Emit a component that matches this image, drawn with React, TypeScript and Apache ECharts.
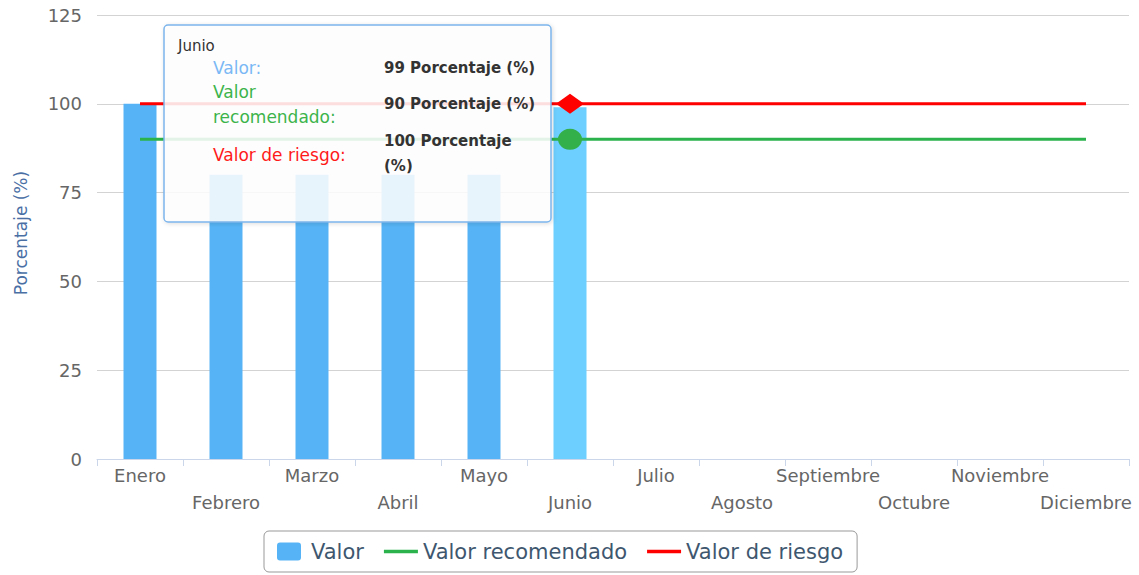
import React, { useEffect, useRef } from "react";
import * as echarts from "echarts";

const months = [
  "Enero", "Febrero", "Marzo", "Abril", "Mayo", "Junio",
  "Julio", "Agosto", "Septiembre", "Octubre", "Noviembre", "Diciembre",
];
const valor: (number | null)[] = [100, 80, 80, 80, 80, 99, null, null, null, null, null, null];
const recomendado = [90, 90, 90, 90, 90, 90, 90, 90, 90, 90, 90, 90];
const riesgo = [100, 100, 100, 100, 100, 100, 100, 100, 100, 100, 100, 100];
const hoverIndex = 5;
const unit = "Porcentaje (%)";
const yMin = 0;
const yMax = 125;
const yStep = 25;

const FONT = "DejaVu Sans";
const BAR = "#56b4f6";
const BAR_HOVER = "#6dcfff";
const GREEN = "#2bb24c";
const RED = "#ff0000";
const LINE_ICON = "path://M0,0 H30 V3 H0 Z";

export default function App() {
  const ref = useRef<HTMLDivElement>(null);

  useEffect(() => {
    if (!ref.current) return;
    const chart = echarts.init(ref.current, undefined, { renderer: "svg" });

    const barData = valor.map((v, i) =>
      i === hoverIndex ? { value: v, itemStyle: { color: BAR_HOVER } } : v
    );

    const option: any = {
      animation: false,
      textStyle: { fontFamily: FONT },
      grid: { left: 97, right: 10, top: 15, bottom: 116 },
      legend: {
        left: 264,
        top: 531,
        padding: [10, 14, 10, 13],
        borderColor: "#999",
        borderWidth: 1,
        borderRadius: 5,
        itemGap: 20,
        itemWidth: 34,
        itemHeight: 18,
        textStyle: { fontSize: 21, color: "#3e576f", fontFamily: FONT },
        data: [
          {
            name: "Valor",
            icon: "path://M3,0 H21 Q24,0 24,3 V15 Q24,18 21,18 H3 Q0,18 0,15 V3 Q0,0 3,0 Z",
          },
          { name: "Valor recomendado", icon: LINE_ICON },
          { name: "Valor de riesgo", icon: LINE_ICON },
        ],
      },
      xAxis: {
        type: "category",
        data: months,
        axisLine: { lineStyle: { color: "#ccd6eb", width: 1 } },
        axisTick: { show: true, length: 7, lineStyle: { color: "#ccd6eb" } },
        axisLabel: {
          interval: 0,
          hideOverlap: false,
          margin: 3,
          fontSize: 18,
          lineHeight: 27,
          color: "#666",
          fontFamily: FONT,
          formatter: (v: string, i: number) => (i % 2 === 1 ? "\n" + v : v),
        },
      },
      yAxis: {
        type: "value",
        min: yMin,
        max: yMax,
        interval: yStep,
        name: unit,
        nameLocation: "middle",
        nameRotate: 90,
        nameGap: 68,
        nameTextStyle: { fontSize: 17, color: "#4a6fa5", fontFamily: FONT, padding: [0, 0, 0, 8] },
        axisLine: { show: false },
        axisTick: { show: false },
        axisLabel: { fontSize: 18, color: "#666", margin: 15, fontFamily: FONT },
        splitLine: { lineStyle: { color: "#d3d3d3", width: 1 } },
      },
      series: [
        {
          name: "Valor",
          type: "bar",
          data: barData,
          barWidth: 33,
          itemStyle: { color: BAR },
          z: 2,
        },
        {
          name: "Valor recomendado",
          type: "line",
          data: recomendado,
          symbol: "none",
          lineStyle: { color: GREEN, width: 3 },
          itemStyle: { color: GREEN },
          z: 3,
          markPoint: {
            silent: true,
            symbol: "circle",
            symbolSize: [24, 21],
            label: { show: false },
            itemStyle: { color: "#34b04a" },
            data: [{ coord: [months[hoverIndex], recomendado[hoverIndex]] }],
          },
        },
        {
          name: "Valor de riesgo",
          type: "line",
          data: riesgo,
          symbol: "none",
          lineStyle: { color: RED, width: 3 },
          itemStyle: { color: RED },
          z: 4,
          markPoint: {
            silent: true,
            symbol: "diamond",
            symbolSize: [28, 20],
            label: { show: false },
            itemStyle: { color: RED },
            data: [{ coord: [months[hoverIndex], riesgo[hoverIndex]] }],
          },
        },
      ],
      graphic: [
        {
          type: "rect",
          z: 100,
          shape: { x: 164, y: 25, width: 387, height: 197, r: 4 },
          style: {
            fill: "rgba(255,255,255,0.86)",
            stroke: "#7cb5ec",
            lineWidth: 1.5,
            shadowBlur: 4,
            shadowOffsetX: 1,
            shadowOffsetY: 1,
            shadowColor: "rgba(0,0,0,0.15)",
          },
        },
        {
          type: "text",
          z: 101,
          x: 178,
          y: 46,
          style: { text: months[hoverIndex], fontSize: 15, fill: "#333", fontFamily: FONT, verticalAlign: "middle" },
        },
        {
          type: "text",
          z: 101,
          x: 213,
          y: 68,
          style: { text: "Valor:", fontSize: 17, fill: "#7ab8f5", fontFamily: FONT, verticalAlign: "middle" },
        },
        {
          type: "text",
          z: 101,
          x: 213,
          y: 104,
          style: {
            text: "Valor\nrecomendado:",
            fontSize: 17,
            lineHeight: 25,
            fill: "#3cb44b",
            fontFamily: FONT,
            verticalAlign: "middle",
          },
        },
        {
          type: "text",
          z: 101,
          x: 213,
          y: 155,
          style: { text: "Valor de riesgo:", fontSize: 17, fill: "#ff1a1a", fontFamily: FONT, verticalAlign: "middle" },
        },
        {
          type: "text",
          z: 101,
          x: 384,
          y: 68,
          style: {
            text: `${valor[hoverIndex]} ${unit}`,
            fontSize: 15,
            fontWeight: "bold",
            fill: "#333",
            fontFamily: FONT,
            verticalAlign: "middle",
          },
        },
        {
          type: "text",
          z: 101,
          x: 384,
          y: 104,
          style: {
            text: `${recomendado[hoverIndex]} ${unit}`,
            fontSize: 15,
            fontWeight: "bold",
            fill: "#333",
            fontFamily: FONT,
            verticalAlign: "middle",
          },
        },
        {
          type: "text",
          z: 101,
          x: 384,
          y: 153,
          style: {
            text: `${riesgo[hoverIndex]} Porcentaje\n(%)`,
            fontSize: 15,
            lineHeight: 25,
            fontWeight: "bold",
            fill: "#333",
            fontFamily: FONT,
            verticalAlign: "middle",
          },
        },
      ],
    };

    chart.setOption(option);
    return () => chart.dispose();
  }, []);

  return (
    <div
      ref={ref}
      style={{ position: "absolute", left: 0, top: 0, width: 1139, height: 575, background: "#fff" }}
    />
  );
}
